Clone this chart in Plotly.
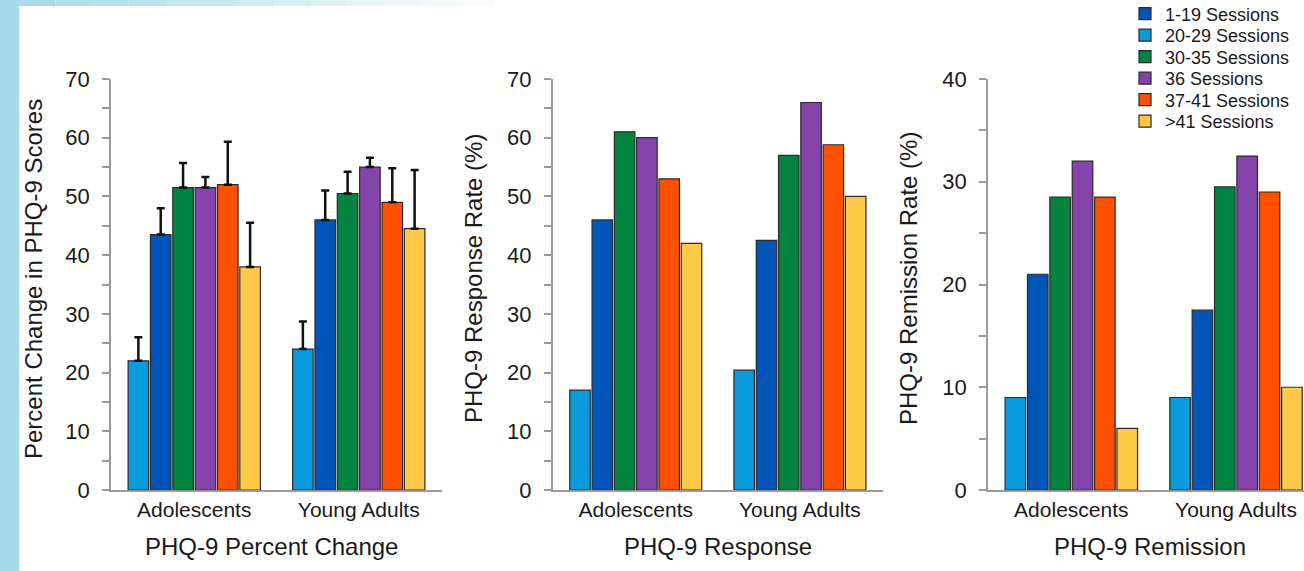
import plotly.graph_objects as go

W, H = 1304, 571

groups = ["Adolescents", "Young Adults"]

# series in the drawing order of the bars (left to right inside a group)
series_names = ["20-29 Sessions", "1-19 Sessions", "30-35 Sessions",
                "36 Sessions", "37-41 Sessions", ">41 Sessions"]
legend_slot = [1, 0, 2, 3, 4, 5]   # position of each series in the legend list
colors = ["#0A9BDC", "#0056B8", "#00843F", "#8444AC", "#FF5000", "#FFC847"]

# PHQ-9 percent change (mean) and upper error
pct_change = [
    [22.0, 24.0],
    [43.5, 46.0],
    [51.5, 50.5],
    [51.5, 55.0],
    [52.0, 49.0],
    [38.0, 44.5],
]
pct_change_err = [
    [4.0, 4.7],
    [4.5, 5.0],
    [4.2, 3.7],
    [1.8, 1.6],
    [7.3, 5.8],
    [7.5, 10.0],
]
# PHQ-9 response rate (%)
response = [
    [17.0, 20.4],
    [46.0, 42.5],
    [61.0, 57.0],
    [60.0, 66.0],
    [53.0, 58.8],
    [42.0, 50.0],
]
# PHQ-9 remission rate (%)
remission = [
    [9.0, 9.0],
    [21.0, 17.5],
    [28.5, 29.5],
    [32.0, 32.5],
    [28.5, 29.0],
    [6.0, 10.0],
]

y_titles = ["Percent Change in PHQ-9 Scores", "PHQ-9 Response Rate (%)", "PHQ-9 Remission Rate (%)"]
x_titles = ["PHQ-9 Percent Change", "PHQ-9 Response", "PHQ-9 Remission"]
y_max = [70, 70, 40]

FONT = "Liberation Sans, Arial, sans-serif"
TXT = "#1a1a1a"


def px(x):
    return x / W


def py(y):
    return 1 - y / H


fig = go.Figure()

panels = [pct_change, response, remission]
for p, data in enumerate(panels):
    ax = "" if p == 0 else str(p + 1)
    for i, name in enumerate(series_names):
        kw = {}
        if p == 0:
            kw["error_y"] = dict(type="data", symmetric=False,
                                 array=pct_change_err[i], arrayminus=[0, 0],
                                 color="#111111", thickness=2.5, width=4)
        slot = legend_slot[i]
        fig.add_trace(go.Bar(
            x=groups, y=data[i], name=name,
            marker=dict(color=colors[i], line=dict(color="#2a2a2a", width=1.2)),
            legendgroup=name,
            legend="legend" if slot == 0 else "legend%d" % (slot + 1),
            showlegend=(p == 0),
            xaxis="x" + ax, yaxis="y" + ax,
            **kw,
        ))

x_domains = [[px(111), px(442)], [px(552.7), px(883)], [px(988), 1.0]]
x_ranges = [[-0.506, 1.506], [-0.506, 1.506], [-0.506, 1.413]]
y_dom = [py(490), py(79)]

layout = dict(
    width=W, height=H,
    margin=dict(l=0, r=0, t=0, b=0, pad=0, autoexpand=False),
    paper_bgcolor="white", plot_bgcolor="rgba(0,0,0,0)",
    barmode="group", bargap=0.185, bargroupgap=0.08,
    font=dict(family=FONT, color=TXT),
    showlegend=True,
)

legend_centers = [14, 35.5, 57, 78.5, 100, 121.5]
for k, yc in enumerate(legend_centers):
    key = "legend" if k == 0 else "legend%d" % (k + 1)
    layout[key] = dict(x=px(1125), y=py(yc), xanchor="left", yanchor="middle",
                       font=dict(size=18, family=FONT, color=TXT),
                       bgcolor="rgba(255,255,255,0)", borderwidth=0,
                       itemclick=False, itemdoubleclick=False)

for p in range(3):
    ax = "" if p == 0 else str(p + 1)
    layout["xaxis" + ax] = dict(
        domain=x_domains[p], range=x_ranges[p], anchor="y" + ax,
        showline=True, linecolor="#9a9a9a", linewidth=1.5,
        ticks="", showgrid=False, zeroline=False,
        tickfont=dict(size=21, family=FONT, color=TXT),
        ticklabelstandoff=0, fixedrange=True, automargin=False,
    )
    layout["yaxis" + ax] = dict(
        domain=y_dom, range=[0, y_max[p]], anchor="x" + ax,
        showline=True, linecolor="#9a9a9a", linewidth=1.5,
        ticks="outside", ticklen=7, tickwidth=1.5, tickcolor="#9a9a9a",
        dtick=10, tick0=0,
        minor=dict(dtick=5, ticks="outside", ticklen=7, tickwidth=1.5, tickcolor="#9a9a9a", showgrid=False),
        showgrid=False, zeroline=False,
        tickfont=dict(size=22, family=FONT, color=TXT),
        ticklabelstandoff=8, fixedrange=True, automargin=False,
    )

fig.update_layout(**layout)

# axis titles as annotations
ytitle_x = [33, 473, 908]
xtitle_x = [271, 718, 1150]
for p in range(3):
    fig.add_annotation(text=y_titles[p], xref="paper", yref="paper",
                       x=px(ytitle_x[p]), y=py(279), textangle=-90,
                       xanchor="center", yanchor="middle", showarrow=False,
                       font=dict(size=24, family=FONT, color=TXT))
    fig.add_annotation(text=x_titles[p], xref="paper", yref="paper",
                       x=px(xtitle_x[p]), y=py(546),
                       xanchor="center", yanchor="middle", showarrow=False,
                       font=dict(size=24, family=FONT, color=TXT))

# slide decoration: left strip and fading top band
shapes = [dict(type="rect", xref="paper", yref="paper", x0=0, x1=px(19), y0=0, y1=1,
               fillcolor="#A7DBE7", line=dict(width=0), layer="below")]
start = (168, 220, 232)
n = 14
x_left, x_right = 19, 530
for k in range(n):
    t = k / (n - 1)
    c = tuple(int(round(start[j] + (255 - start[j]) * t)) for j in range(3))
    xa = x_left + (x_right - x_left) * k / n
    xb = x_left + (x_right - x_left) * (k + 1) / n
    shapes.append(dict(type="rect", xref="paper", yref="paper",
                       x0=px(xa), x1=px(xb), y0=py(6), y1=1,
                       fillcolor="rgb(%d,%d,%d)" % c, line=dict(width=0), layer="below"))
fig.update_layout(shapes=shapes)

fig.write_html("out.html", config={"displayModeBar": False},
               post_script="document.body.style.margin='0';document.body.style.overflow='hidden';")
